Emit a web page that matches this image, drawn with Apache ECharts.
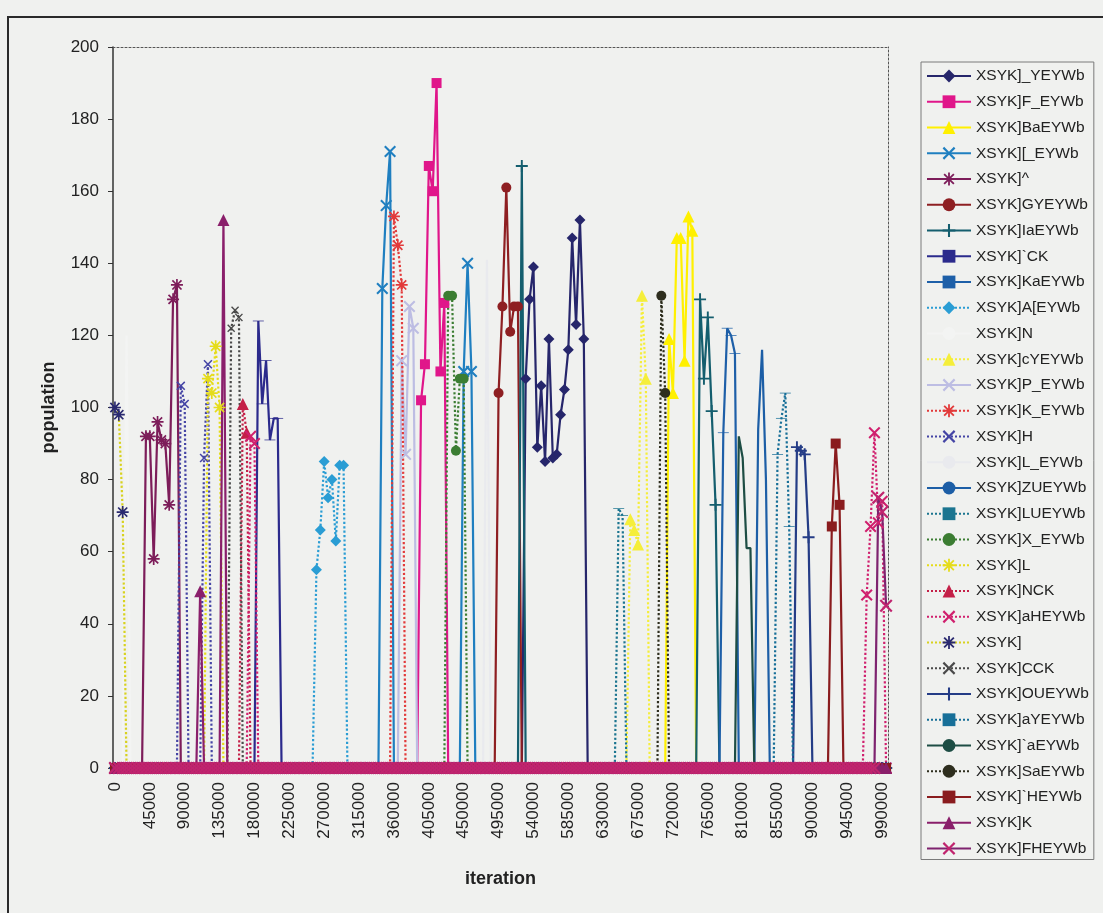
<!DOCTYPE html>
<html>
<head>
<meta charset="utf-8">
<script src="https://cdn.jsdelivr.net/npm/echarts@6/dist/echarts.min.js"></script>
<style>
  html, body { margin: 0; padding: 0; background: #f0f1ef; }
  #chart { width: 1103px; height: 913px; }
</style>
</head>
<body>
<div id="chart"></div>
<script>
// Sampled iterations: every 5000 steps from 0 to 995000
const iterations = [];
for (let it = 0; it <= 995000; it += 5000) iterations.push(it);

// Series names in legend order
const seriesNames = [
  'XSYK]_YEYWb', 'XSYK]F_EYWb', 'XSYK]BaEYWb', 'XSYK][_EYWb', 'XSYK]^',
  'XSYK]GYEYWb', 'XSYK]IaEYWb', 'XSYK]`CK', 'XSYK]KaEYWb', 'XSYK]A[EYWb',
  'XSYK]N', 'XSYK]cYEYWb', 'XSYK]P_EYWb', 'XSYK]K_EYWb', 'XSYK]H',
  'XSYK]L_EYWb', 'XSYK]ZUEYWb', 'XSYK]LUEYWb', 'XSYK]X_EYWb', 'XSYK]L',
  'XSYK]NCK', 'XSYK]aHEYWb', 'XSYK]', 'XSYK]CCK', 'XSYK]OUEYWb',
  'XSYK]aYEYWb', 'XSYK]`aEYWb', 'XSYK]SaEYWb', 'XSYK]`HEYWb', 'XSYK]K',
  'XSYK]FHEYWb'
];

// Non-zero populations per series as [iteration, population]; all other samples are 0
const pop01 = [[530000,108],[535000,130],[540000,139],[545000,89],[550000,106],[555000,85],[560000,119],[565000,86],[570000,87],[575000,98],[580000,105],[585000,116],[590000,147],[595000,123],[600000,152],[605000,119]];
const pop02 = [[395000,102],[400000,112],[405000,167],[410000,160],[415000,190],[420000,110],[425000,129]];
const pop03 = [[715000,119],[720000,104],[725000,147],[730000,147],[735000,113],[740000,153],[745000,149]];
const pop04 = [[345000,133],[350000,156],[355000,171],[450000,110],[455000,140],[460000,110]];
const pop05 = [[40000,92],[45000,92],[50000,58],[55000,96],[60000,91],[65000,90],[70000,73],[75000,130],[80000,134]];
const pop06 = [[495000,104],[500000,128],[505000,161],[510000,121],[515000,128],[520000,128]];
const pop07 = [[525000,167],[755000,130],[760000,108],[765000,125],[770000,99],[775000,73]];
const pop08 = [[185000,124],[190000,101],[195000,113],[200000,91],[205000,97],[210000,97]];
const pop09 = [[785000,93],[790000,122],[795000,120],[800000,115]];
const pop10 = [[260000,55],[265000,66],[270000,85],[275000,75],[280000,80],[285000,63],[290000,84],[295000,84]];
const pop11 = [[15000,120]];
const pop12 = [[665000,69],[670000,66],[675000,62],[680000,131],[685000,108]];
const pop13 = [[370000,113],[375000,87],[380000,128],[385000,122]];
const pop14 = [[360000,153],[365000,145],[370000,134]];
const pop15 = [[85000,106],[90000,101],[115000,86],[120000,112]];
const pop16 = [[480000,141]];
const pop17 = [[830000,94],[835000,116],[840000,80]];
const pop18 = [[650000,72],[655000,70]];
const pop19 = [[430000,131],[435000,131],[440000,88],[445000,108],[450000,108]];
const pop20 = [[120000,108],[125000,104],[130000,117],[135000,100]];
const pop21 = [[165000,101],[170000,93]];
const pop22 = [[175000,92],[180000,90],[970000,48],[975000,67],[980000,93],[985000,68],[990000,74]];
const pop23 = [[0,100],[5000,98],[10000,71]];
const pop24 = [[150000,122],[155000,127],[160000,125]];
const pop25 = [[880000,89],[885000,88],[890000,87],[895000,64]];
const pop26 = [[855000,87],[860000,97],[865000,104],[870000,67]];
const pop27 = [[805000,92],[810000,86],[815000,61],[820000,61]];
const pop28 = [[705000,131],[710000,104]];
const pop29 = [[925000,67],[930000,90],[935000,73]];
const pop30 = [[110000,49],[140000,152]];
const pop31 = [[985000,75],[990000,71],[995000,45]];

const populations = [pop01, pop02, pop03, pop04, pop05, pop06, pop07, pop08, pop09, pop10,
  pop11, pop12, pop13, pop14, pop15, pop16, pop17, pop18, pop19, pop20,
  pop21, pop22, pop23, pop24, pop25, pop26, pop27, pop28, pop29, pop30, pop31];

// Y axis ticks
const yMin = 0, yMax = 200, yStep = 20;

// Marker shapes
const X_PATH = 'path://M0,1.2L1.2,0L5,3.8L8.8,0L10,1.2L6.2,5L10,8.8L8.8,10L5,6.2L1.2,10L0,8.8L3.8,5Z';
const PLUS_PATH = 'path://M4.2,0H5.8V4.2H10V5.8H5.8V10H4.2V5.8H0V4.2H4.2Z';
const DASH_PATH = 'path://M0,0H10V2.4H0Z';
const STAR_PATH = 'path://M4.3,0H5.7V3.3L8.3,0.7L9.3,1.7L6.7,4.3H10V5.7H6.7L9.3,8.3L8.3,9.3L5.7,6.7V10H4.3V6.7L1.7,9.3L0.7,8.3L3.3,5.7H0V4.3H3.3L0.7,1.7L1.7,0.7L4.3,3.3Z';

// Per-series look: line colour, marker colour, marker, marker size, line type
const looks = [
  ['#26266b', '#26266b', 'diamond', 11, 'solid'],
  ['#e0168a', '#e0168a', 'rect', 10, 'solid'],
  ['#fff000', '#fff000', 'triangle', 12, 'solid'],
  ['#1f7fc0', '#1f7fc0', X_PATH, 12, 'solid'],
  ['#7d1d5a', '#7d1d5a', STAR_PATH, 12, 'solid'],
  ['#8e1f22', '#8e1f22', 'circle', 10, 'solid'],
  ['#145e6e', '#145e6e', PLUS_PATH, 12, 'solid'],
  ['#2b2a8c', '#2b2a8c', DASH_PATH, [11, 3], 'solid'],
  ['#1d5fa8', '#1d5fa8', DASH_PATH, [11, 3], 'solid'],
  ['#2a9dd4', '#2a9dd4', 'diamond', 11, 'dotted'],
  ['#f3f4f3', '#f3f4f3', 'none', 6, 'solid'],
  ['#f5ee3a', '#f5ee3a', 'triangle', 12, 'dotted'],
  ['#bdbde3', '#bdbde3', X_PATH, 12, 'solid'],
  ['#e23a3a', '#e23a3a', STAR_PATH, 12, 'dotted'],
  ['#4545a5', '#4545a5', X_PATH, 9, 'dotted'],
  ['#e9eaee', '#e9eaee', 'none', 6, 'solid'],
  ['#1c5ea6', '#1c5ea6', 'none', 6, 'solid'],
  ['#1b7590', '#1b7590', DASH_PATH, [11, 3], 'dotted'],
  ['#3b7d32', '#3b7d32', 'circle', 10, 'dotted'],
  ['#e5dc1a', '#e5dc1a', STAR_PATH, 12, 'dotted'],
  ['#c42048', '#c42048', 'triangle', 12, 'dotted'],
  ['#d0206e', '#d0206e', X_PATH, 12, 'dotted'],
  ['#d8d21e', '#2a2a70', STAR_PATH, 12, 'dotted'],
  ['#4a4a4a', '#4a4a4a', X_PATH, 8, 'dotted'],
  ['#243c86', '#243c86', PLUS_PATH, 12, 'solid'],
  ['#176f98', '#176f98', DASH_PATH, [11, 3], 'dotted'],
  ['#1d4d44', '#1d4d44', 'none', 6, 'solid'],
  ['#2e2e1e', '#2e2e1e', 'circle', 10, 'dotted'],
  ['#8a1c1e', '#8a1c1e', 'rect', 10, 'solid'],
  ['#8a1f6b', '#8a1f6b', 'triangle', 12, 'solid'],
  ['#7e236f', '#c0246e', X_PATH, 13, 'solid']
];

function fullSeries(points) {
  const byIteration = new Map(points.map(p => [p[0], p[1]]));
  return iterations.map(it => byIteration.has(it) ? byIteration.get(it) : 0);
}

const FONT = '"Liberation Sans", Arial, sans-serif';

const series = seriesNames.map((name, k) => {
  const [lineColor, markColor, symbol, size, type] = looks[k];
  return {
    name: name,
    type: 'line',
    data: fullSeries(populations[k]),
    symbol: symbol,
    symbolSize: size,
    symbolKeepAspect: true,
    showSymbol: symbol !== 'none',
    showAllSymbol: true,
    animation: false,
    lineStyle: { color: lineColor, width: 2.2, type: type },
    itemStyle: { color: markColor, borderColor: markColor, borderWidth: 0 },
    emphasis: { disabled: true }
  };
});

const chart = echarts.init(document.getElementById('chart'), null, { renderer: 'canvas' });
chart.setOption({
  backgroundColor: '#f0f1ef',
  animation: false,
  textStyle: { fontFamily: FONT },
  graphic: [{
    type: 'rect',
    shape: { x: 8, y: 17, width: 1110, height: 910 },
    style: { fill: 'none', stroke: '#2a2a2a', lineWidth: 2 },
    silent: true
  }],
  grid: { left: 113, right: 215, top: 47, bottom: 145 },
  legend: {
    orient: 'vertical',
    left: 921,
    top: 62,
    padding: [6, 5, 3, 5],
    itemWidth: 44,
    itemHeight: 16,
    itemGap: 9.75,
    backgroundColor: '#f0f1ef',
    borderColor: '#7a7a7a',
    borderWidth: 1,
    textStyle: { fontFamily: FONT, fontSize: 15.5, lineHeight: 16, color: '#222' },
    data: seriesNames
  },
  xAxis: [{
    type: 'category',
    data: iterations,
    boundaryGap: true,
    name: 'iteration',
    nameLocation: 'middle',
    nameGap: 102,
    nameTextStyle: { fontFamily: FONT, fontSize: 18, fontWeight: 'bold', color: '#222' },
    axisLine: { show: true, lineStyle: { color: '#333', width: 1 } },
    axisTick: { show: false },
    axisLabel: { interval: 8, rotate: 90, margin: 14, fontSize: 17, color: '#222', fontFamily: FONT },
    splitLine: { show: false }
  }, {
    type: 'category',
    position: 'top',
    data: iterations,
    axisLine: { show: true, onZero: false, lineStyle: { color: '#555', width: 1, type: [2, 2] } },
    axisTick: { show: false },
    axisLabel: { show: false },
    splitLine: { show: false }
  }],
  yAxis: [{
    type: 'value',
    min: yMin,
    max: yMax,
    interval: yStep,
    name: 'population',
    nameLocation: 'middle',
    nameGap: 55,
    nameTextStyle: { fontFamily: FONT, fontSize: 18, fontWeight: 'bold', color: '#222' },
    axisLine: { show: true, lineStyle: { color: '#333', width: 1.5 } },
    axisTick: { show: true, length: 5, lineStyle: { color: '#333' } },
    axisLabel: { margin: 14, fontSize: 17, color: '#222', fontFamily: FONT },
    splitLine: { show: false }
  }, {
    type: 'value',
    position: 'right',
    min: yMin,
    max: yMax,
    interval: yStep,
    axisLine: { show: true, onZero: false, lineStyle: { color: '#555', width: 1, type: [2, 2] } },
    axisTick: { show: false },
    axisLabel: { show: false },
    splitLine: { show: false }
  }],
  series: series
});
</script>
</body>
</html>
